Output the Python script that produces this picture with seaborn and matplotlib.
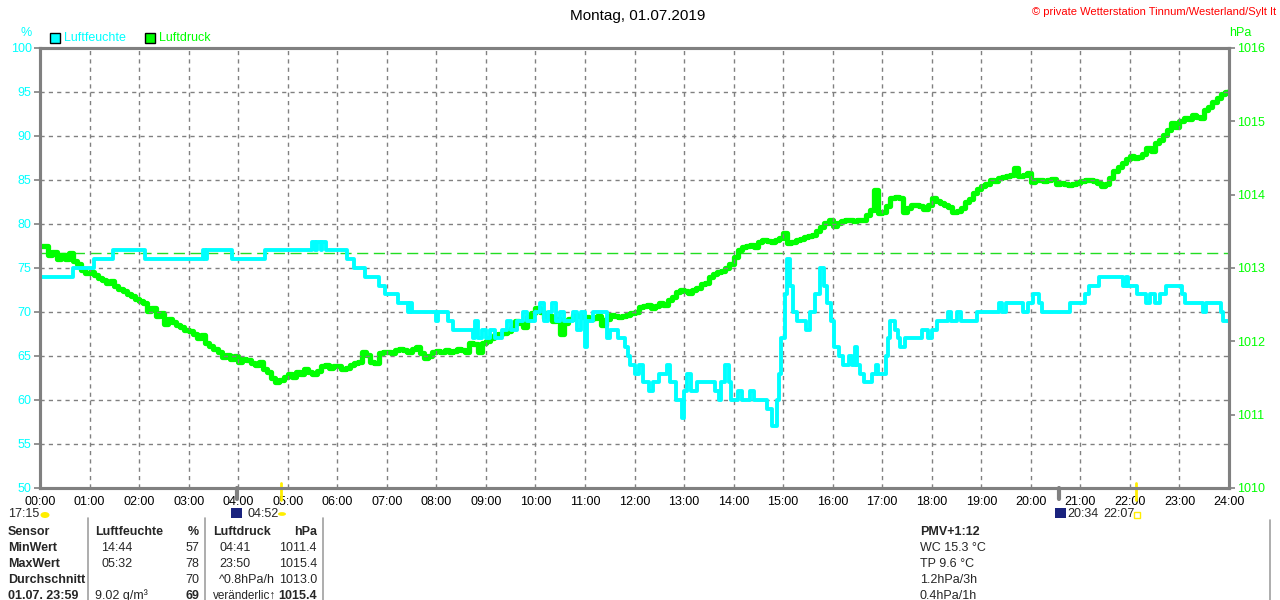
"""Tagesverlauf Luftfeuchte / Luftdruck der Wetterstation Tinnum, 01.07.2019."""

import matplotlib.pyplot as plt
import matplotlib.patches as mpatches
import numpy as np
import pandas as pd
import seaborn as sns

OUTPUT_PATH = "out.png"

TITLE = "Montag, 01.07.2019"
COPYRIGHT = "© private Wetterstation Tinnum/Westerland/Sylt It"

HOUR_LABELS = [f"{h:02d}:00" for h in range(25)]
HUM_TICKS = [50, 55, 60, 65, 70, 75, 80, 85, 90, 95, 100]
PRESS_TICKS = [1010, 1011, 1012, 1013, 1014, 1015, 1016]
PRESS_REFERENCE = 1013.2

# Luftfeuchte: Zeitpunkte der Stufenwechsel und Werte in %
HUM_TIMES = [
    "00:00", "00:40", "01:05", "01:28", "02:07", "03:17", "03:20", "03:22", "03:52", "04:32",
    "05:30", "05:33", "05:36", "05:40", "05:42", "05:46", "06:12", "06:20", "06:34", "06:50",
    "06:58", "07:13", "07:26", "07:28", "07:30", "08:00", "08:02", "08:14", "08:20", "08:44",
    "08:47", "08:50", "08:55", "09:00", "09:05", "09:11", "09:20", "09:26", "09:30", "09:38",
    "09:45", "09:50", "10:00", "10:05", "10:10", "10:15", "10:20", "10:25", "10:30", "10:35",
    "10:45", "10:50", "10:55", "11:00", "11:03", "11:10", "11:27", "11:30", "11:40", "11:48",
    "11:52", "11:55", "12:00", "12:05", "12:10", "12:18", "12:22", "12:30", "12:39", "12:43",
    "12:50", "12:57", "13:00", "13:03", "13:08", "13:16", "13:37", "13:42", "13:45", "13:50",
    "13:54", "13:57", "14:05", "14:10", "14:20", "14:25", "14:40", "14:46", "14:52", "14:55",
    "14:58", "15:02", "15:05", "15:08", "15:12", "15:17", "15:28", "15:33", "15:38", "15:45",
    "15:50", "15:53", "15:58", "16:02", "16:08", "16:12", "16:20", "16:24", "16:27", "16:30",
    "16:33", "16:38", "16:48", "16:52", "16:55", "17:04", "17:07", "17:10", "17:15", "17:19",
    "17:22", "17:28", "17:48", "17:55", "18:00", "18:06", "18:20", "18:23", "18:30", "18:35",
    "18:55", "19:22", "19:25", "19:30", "19:50", "19:56", "20:03", "20:10", "20:14", "20:47",
    "21:05", "21:10", "21:22", "21:52", "21:55", "21:58", "22:09", "22:20", "22:24", "22:30",
    "22:36", "22:44", "23:03", "23:07", "23:28", "23:32", "23:50", "23:53", "24:00",
]
HUM_VALUES = [
    74, 75, 76, 77, 76, 77, 76, 77, 76, 77,
    78, 77, 78, 77, 78, 77, 76, 75, 74, 73,
    72, 71, 70, 71, 70, 69, 70, 69, 68, 67,
    69, 67, 68, 67, 68, 67, 68, 69, 68, 69,
    70, 69, 70, 71, 69, 70, 71, 69, 70, 69,
    70, 68, 70, 66, 69, 70, 67, 68, 67, 66,
    65, 64, 63, 64, 62, 61, 62, 63, 64, 62,
    60, 58, 61, 63, 61, 62, 61, 60, 62, 64,
    62, 60, 61, 60, 61, 60, 59, 57, 60, 63,
    67, 72, 76, 73, 70, 69, 68, 70, 72, 75,
    73, 71, 69, 66, 65, 64, 65, 64, 66, 64,
    63, 62, 63, 64, 63, 65, 67, 69, 68, 67,
    66, 67, 68, 67, 68, 69, 70, 69, 70, 69,
    70, 71, 70, 71, 70, 71, 72, 71, 70, 71,
    72, 73, 74, 73, 74, 73, 72, 71, 72, 71,
    72, 73, 72, 71, 70, 71, 70, 69, 69,
]

# Luftdruck in hPa, alle 5 Minuten (00:00 bis 24:00)
PRESS_VALUES = [
    1013.30, 1013.30, 1013.18, 1013.22, 1013.12, 1013.18, 1013.12, 1013.20, 1013.10, 1013.05, 1012.97, 1012.93,
    1012.95, 1012.90, 1012.86, 1012.84, 1012.80, 1012.82, 1012.76, 1012.72, 1012.68, 1012.64, 1012.62, 1012.58,
    1012.55, 1012.52, 1012.42, 1012.45, 1012.35, 1012.38, 1012.24, 1012.30, 1012.27, 1012.22, 1012.20, 1012.16,
    1012.14, 1012.10, 1012.04, 1012.08, 1011.98, 1011.94, 1011.90, 1011.85, 1011.78, 1011.82, 1011.76, 1011.80,
    1011.72, 1011.76, 1011.74, 1011.70, 1011.68, 1011.72, 1011.62, 1011.58, 1011.50, 1011.45, 1011.47, 1011.52,
    1011.56, 1011.52, 1011.58, 1011.56, 1011.62, 1011.58, 1011.56, 1011.60, 1011.66, 1011.68, 1011.63, 1011.66,
    1011.66, 1011.62, 1011.64, 1011.68, 1011.70, 1011.72, 1011.85, 1011.82, 1011.72, 1011.70, 1011.84, 1011.86,
    1011.86, 1011.84, 1011.88, 1011.90, 1011.88, 1011.86, 1011.90, 1011.92, 1011.84, 1011.77, 1011.80, 1011.86,
    1011.87, 1011.85, 1011.88, 1011.86, 1011.87, 1011.89, 1011.88, 1011.86, 1011.98, 1011.96, 1011.86, 1011.98,
    1012.00, 1012.04, 1012.08, 1012.10, 1012.12, 1012.14, 1012.18, 1012.28, 1012.25, 1012.20, 1012.33, 1012.38,
    1012.45, 1012.40, 1012.32, 1012.34, 1012.28, 1012.30, 1012.10, 1012.25, 1012.30, 1012.36, 1012.35, 1012.33,
    1012.33, 1012.30, 1012.32, 1012.34, 1012.22, 1012.30, 1012.36, 1012.34, 1012.33, 1012.35, 1012.36, 1012.38,
    1012.40, 1012.47, 1012.48, 1012.50, 1012.45, 1012.48, 1012.52, 1012.50, 1012.56, 1012.60, 1012.67, 1012.70,
    1012.69, 1012.66, 1012.70, 1012.73, 1012.78, 1012.80, 1012.88, 1012.92, 1012.94, 1012.96, 1013.00, 1013.06,
    1013.15, 1013.24, 1013.28, 1013.30, 1013.31, 1013.28, 1013.36, 1013.38, 1013.37, 1013.36, 1013.38, 1013.41,
    1013.48, 1013.34, 1013.36, 1013.38, 1013.40, 1013.42, 1013.43, 1013.45, 1013.50, 1013.56, 1013.62, 1013.65,
    1013.57, 1013.62, 1013.64, 1013.66, 1013.65, 1013.64, 1013.66, 1013.65, 1013.72, 1013.79, 1014.06, 1013.75,
    1013.77, 1013.84, 1013.95, 1013.97, 1013.96, 1013.77, 1013.82, 1013.86, 1013.86, 1013.84, 1013.80, 1013.86,
    1013.95, 1013.92, 1013.89, 1013.86, 1013.83, 1013.77, 1013.78, 1013.82, 1013.90, 1013.94, 1014.02, 1014.08,
    1014.12, 1014.14, 1014.20, 1014.18, 1014.23, 1014.24, 1014.26, 1014.27, 1014.36, 1014.25, 1014.27, 1014.30,
    1014.17, 1014.20, 1014.20, 1014.18, 1014.20, 1014.21, 1014.14, 1014.16, 1014.15, 1014.13, 1014.14, 1014.16,
    1014.18, 1014.20, 1014.20, 1014.18, 1014.16, 1014.12, 1014.15, 1014.23, 1014.32, 1014.38, 1014.43, 1014.48,
    1014.53, 1014.50, 1014.52, 1014.56, 1014.64, 1014.60, 1014.70, 1014.75, 1014.82, 1014.88, 1014.98, 1014.92,
    1015.00, 1015.05, 1015.03, 1015.09, 1015.06, 1015.04, 1015.16, 1015.20, 1015.27, 1015.32, 1015.37, 1015.40,
    1015.42,
]

# Sonne / Mond Markierungen unter der Zeitachse
GREY_MARKS = ["03:58", "20:34"]
YELLOW_MARKS = ["04:52", "22:07"]

# Tabelle unten
TABLE_HEADER = ["Sensor", "Luftfeuchte", "%", "Luftdruck", "hPa"]
TABLE_ROWS = [
    ["MinWert", "14:44", "57", "04:41", "1011.4"],
    ["MaxWert", "05:32", "78", "23:50", "1015.4"],
    ["Durchschnitt", "", "70", "^0.8hPa/h", "1013.0"],
    ["01.07. 23:59", "9.02 g/m³", "69", "veränderlic↑", "1015.4"],
]
EXTRA_LINES = ["PMV+1:12", "WC 15.3 °C", "TP 9.6 °C", "1.2hPa/3h", "0.4hPa/1h"]

CYAN = "#00ffff"
GREEN = "#00ff00"
GREY = "#808080"
W, H = 1280, 600


def to_hours(label: str) -> float:
    hh, mm = label.split(":")
    return int(hh) + int(mm) / 60


def px(x: float, y: float) -> tuple[float, float]:
    """Pixel-Koordinaten (oben links) in Figure-Koordinaten."""
    return x / W, 1 - y / H


def main() -> None:
    sns.set_theme(style="white")
    plt.rcParams["font.family"] = ["Liberation Sans", "DejaVu Sans"]
    plt.rcParams["font.size"] = 9

    hum = pd.DataFrame({"hour": [to_hours(t) for t in HUM_TIMES], "value": HUM_VALUES})
    press = pd.DataFrame({
        "hour": np.arange(len(PRESS_VALUES)) * 5 / 60,
        "value": PRESS_VALUES,
    })

    fig = plt.figure(figsize=(12.8, 6.0), dpi=100)
    fig.patch.set_facecolor("white")
    left, bottom = px(40, 488)
    right, top = px(1229, 48)
    ax = fig.add_axes([left, bottom, right - left, top - bottom])
    ax2 = ax.twinx()

    ax2.axhline(PRESS_REFERENCE, color="#22dd22", linestyle=(0, (8, 4)), linewidth=1)
    sns.lineplot(data=press, x="hour", y="value", ax=ax2, color=GREEN,
                 linewidth=3.8, drawstyle="steps-post", estimator=None)
    sns.lineplot(data=hum, x="hour", y="value", ax=ax, color=CYAN,
                 linewidth=2.8, drawstyle="steps-post", estimator=None)
    ax.set_zorder(ax2.get_zorder() + 1)
    ax.patch.set_visible(False)

    ax.set_xlim(0, 24)
    ax.set_ylim(50, 100)
    ax2.set_ylim(1010, 1016)

    ax.set_xticks(range(25))
    ax.set_xticklabels(HOUR_LABELS, color="black")
    ax.set_yticks(HUM_TICKS)
    ax.set_yticklabels([str(v) for v in HUM_TICKS], color=CYAN)
    ax2.set_yticks(PRESS_TICKS)
    ax2.set_yticklabels([str(v) for v in PRESS_TICKS], color=GREEN)

    ax.grid(True, color=GREY, linestyle=(0, (3, 3)), linewidth=1)
    ax2.grid(False)
    for a in (ax, ax2):
        for spine in a.spines.values():
            spine.set_color(GREY)
            spine.set_linewidth(2.2)
        a.tick_params(colors=GREY, length=4, width=1.2, pad=2, labelsize=9)
        a.set_xlabel("")
        a.set_ylabel("")
    ax.tick_params(axis="y", labelcolor=CYAN)
    ax.tick_params(axis="x", labelcolor="black")
    ax2.tick_params(axis="y", labelcolor=GREEN)

    # Markierungen unterhalb der Achse
    for t in GREY_MARKS:
        ax.plot([to_hours(t)] * 2, [50, 48.8], color=GREY, lw=3, clip_on=False)
    for t in YELLOW_MARKS:
        ax.plot([to_hours(t)] * 2, [50.6, 48.6], color="#ffee00", lw=2, clip_on=False)

    # Kopfzeile
    fig.text(*px(638, 16), TITLE, ha="center", va="center", fontsize=11, color="black")
    fig.text(*px(1276, 12), COPYRIGHT, ha="right", va="center", fontsize=8, color="red")
    fig.text(*px(26, 33), "%", ha="center", va="center", fontsize=9, color=CYAN)
    fig.text(*px(1240, 33), "hPa", ha="center", va="center", fontsize=9, color=GREEN)
    for x0, color, label in [(50, CYAN, "Luftfeuchte"), (145, GREEN, "Luftdruck")]:
        fig.patches.append(mpatches.Rectangle(px(x0, 43), 10 / W, 10 / H, transform=fig.transFigure,
                                              facecolor=color, edgecolor="black", lw=1))
        fig.text(*px(x0 + 14, 38), label, ha="left", va="center", fontsize=9, color=color)

    # Sonnen- und Mondzeiten
    fig.text(*px(8, 514), "17:15", ha="left", va="center", fontsize=9)
    fig.patches.append(mpatches.Ellipse(px(45, 515), 9 / W, 6 / H, transform=fig.transFigure,
                                        facecolor="#ffee00", edgecolor="none"))
    fig.patches.append(mpatches.Rectangle(px(231, 518), 11 / W, 10 / H, transform=fig.transFigure,
                                          facecolor="#1a237e", edgecolor="none"))
    fig.text(*px(248, 514), "04:52", ha="left", va="center", fontsize=9)
    fig.patches.append(mpatches.Circle(px(282, 514), 4 / W, transform=fig.transFigure,
                                       facecolor="#ffee00", edgecolor="none"))
    fig.patches.append(mpatches.Rectangle(px(1055, 518), 11 / W, 10 / H, transform=fig.transFigure,
                                          facecolor="#1a237e", edgecolor="none"))
    fig.text(*px(1067, 514), "20:34", ha="left", va="center", fontsize=9)
    fig.text(*px(1103, 514), "22:07", ha="left", va="center", fontsize=9)
    fig.patches.append(mpatches.Rectangle(px(1134, 518), 6 / W, 6 / H, transform=fig.transFigure,
                                          facecolor="none", edgecolor="#ffee00", lw=1))

    # Tabelle
    col_x = [(8, "left"), (95, "left"), (199, "right"), (213, "left"), (317, "right")]
    row_y = [532, 548, 564, 580, 596]
    for (x0, ha), text in zip(col_x, TABLE_HEADER):
        fig.text(*px(x0, row_y[0]), text, ha=ha, va="center", fontsize=9, fontweight="bold")
    for y0, row in zip(row_y[1:], TABLE_ROWS):
        last = row is TABLE_ROWS[-1]
        for i, ((x0, ha), text) in enumerate(zip(col_x, row)):
            bold = i == 0 or (last and i in (2, 4))
            xx = x0 + 6 if i in (1, 3) and not last else x0
            size = 8.5 if (last and i == 3) else 9
            fig.text(*px(xx, y0), text, ha=ha, va="center", fontsize=size,
                     fontweight="bold" if bold else "normal")
    for xs in (88, 205, 323):
        fig.add_artist(plt.Line2D([xs / W] * 2, [1 - 518 / H, 0], color="#a0a0a0", lw=1.2,
                                  transform=fig.transFigure))
    fig.add_artist(plt.Line2D([1270 / W] * 2, [1 - 520 / H, 0], color="#a0a0a0", lw=1.2,
                              transform=fig.transFigure))
    for i, text in enumerate(EXTRA_LINES):
        fig.text(*px(920, row_y[i]), text, ha="left", va="center", fontsize=9,
                 fontweight="bold" if i == 0 else "normal")

    fig.savefig(OUTPUT_PATH, dpi=100)
    plt.close(fig)


if __name__ == "__main__":
    main()
